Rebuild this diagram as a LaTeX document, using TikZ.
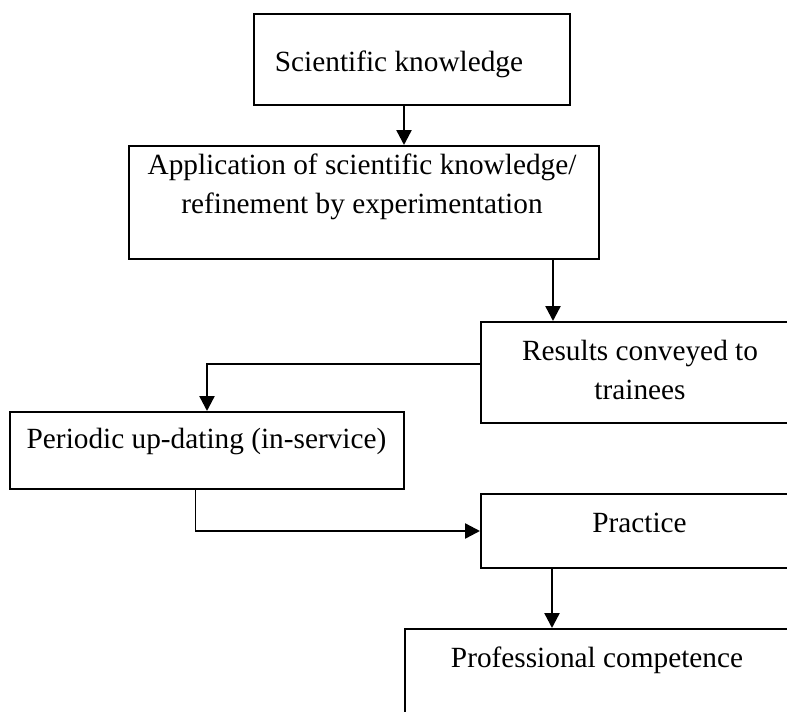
\documentclass[tikz,border=0pt]{standalone}
\usepackage{fontspec}
\setmainfont{Liberation Serif}
\usetikzlibrary{arrows.meta}
\begin{document}
\begin{tikzpicture}[x=1pt,y=-1pt,
    box/.style={draw,line width=2pt,rectangle,inner sep=0pt},
    txt/.style={align=center,anchor=base,inner sep=0pt,font=\fontsize{29.3}{38.5}\selectfont},
    arr/.style={line width=2.4pt,-{Triangle[length=15pt,width=15pt]}}]
    % 画布范围
    \useasboundingbox (0,0) rectangle (787,712);
    \clip (0,0) rectangle (787,712);

    % 方框
    \node [box,minimum width=316,minimum height=91] (sci) at (412,59.5) {};
    \node [box,minimum width=470,minimum height=113] (app) at (364,202.5) {};
    \node [box,minimum width=320,minimum height=101] (res) at (641,372.5) {};
    \node [box,minimum width=394,minimum height=77] (per) at (207,450.5) {};
    \node [box,minimum width=320,minimum height=74] (prac) at (641,531) {};
    \node [box,minimum width=386,minimum height=110] (prof) at (598,684) {};

    % 文字
    \node [txt] (scitxt) at (399,71) {Scientific knowledge};
    \node [txt] (apptxt) at (362,213) {Application of scientific knowledge/\\refinement by experimentation};
    \node [txt] (restxt) at (640,399) {Results conveyed to\\trainees};
    \node [txt] (pertxt) at (206.5,448) {Periodic up-dating (in-service)};
    \node [txt] (practxt) at (639.5,532) {Practice};
    \node [txt] (proftxt) at (597,667) {Professional competence};

    % 箭头
    \draw [arr] ([xshift=-8pt]sci.south) -- ([xshift=-8pt]sci.south |- app.north);
    \draw [arr] (app.south -| 553,0) -- (res.north -| 553,0);
    \draw [arr] ([yshift=8.5pt]res.west) -| (per.north);
    \coordinate (bend) at ([xshift=-12pt]per.south |- prac.west);
    \draw [line width=1pt] ([xshift=-12pt]per.south) -- (bend);
    \draw [arr] (bend) -- (prac.west);
    \draw [arr] (prac.south -| 552,0) -- (prof.north -| 552,0);

\end{tikzpicture}
\end{document}
